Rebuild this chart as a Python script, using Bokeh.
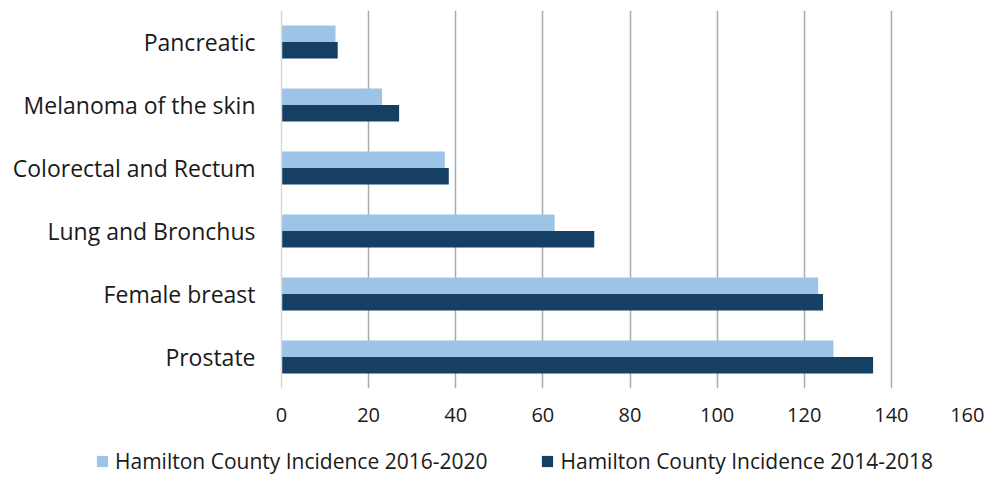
from bokeh.plotting import figure
from bokeh.layouts import column
from bokeh.models import FactorRange, Range1d, Legend, LegendItem, FixedTicker, ColumnDataSource
from bokeh.transform import dodge
from bokeh.embed import file_html
from bokeh.resources import INLINE

categories = ["Prostate", "Female breast", "Lung and Bronchus",
              "Colorectal and Rectum", "Melanoma of the skin", "Pancreatic"]
inc_2016_2020 = [126.7, 123.2, 62.7, 37.5, 23.1, 12.4]
inc_2014_2018 = [135.8, 124.3, 71.8, 38.4, 27.0, 12.9]
series_names = ["Hamilton County Incidence 2016-2020", "Hamilton County Incidence 2014-2018"]
x_ticks = [0, 20, 40, 60, 80, 100, 120, 140, 160]

LIGHT = "#9DC3E6"
DARK = "#153F63"
FONT = "Open Sans"
TXT = "#1a1a1a"

src = ColumnDataSource(dict(cat=categories, a=inc_2016_2020, b=inc_2014_2018))

p = figure(width=984, height=430, output_backend="svg", toolbar_location=None,
           y_range=FactorRange(*categories, range_padding=0),
           x_range=Range1d(0, 160))
p.min_border_left = 281
p.min_border_right = 6
p.min_border_top = 10
p.min_border_bottom = 42
p.outline_line_color = None
p.background_fill_color = "white"

p.hbar(y=dodge("cat", 0.13, range=p.y_range), right="a", height=0.26,
       source=src, color=LIGHT, line_color=None)
p.hbar(y=dodge("cat", -0.13, range=p.y_range), right="b", height=0.26,
       source=src, color=DARK, line_color=None)

p.xaxis.ticker = FixedTicker(ticks=x_ticks)
p.xaxis.axis_line_color = None
p.xaxis.major_tick_line_color = None
p.xaxis.minor_tick_line_color = None
p.xaxis.major_label_text_font = FONT
p.xaxis.major_label_text_font_size = "20px"
p.xaxis.major_label_text_color = TXT
p.xaxis.major_label_standoff = 13

p.yaxis.axis_line_color = "#d9d9d9"
p.yaxis.axis_line_width = 1.5
p.yaxis.major_tick_line_color = None
p.yaxis.minor_tick_line_color = None
p.yaxis.major_label_text_font = FONT
p.yaxis.major_label_text_font_size = "23px"
p.yaxis.major_label_text_color = TXT
p.yaxis.major_label_standoff = 20

p.ygrid.grid_line_color = None
p.xgrid.grid_line_color = "#ababab"
p.xgrid.grid_line_width = 1.5

# legend strip below the chart
p2 = figure(width=984, height=45, output_backend="svg", toolbar_location=None,
            x_range=Range1d(0, 160), y_range=FactorRange(*categories))
p2.min_border_left = 0
p2.min_border_right = 0
p2.min_border_top = 0
p2.min_border_bottom = 0
if "frame_align" in p2.properties():
    p2.frame_align = False
    p.frame_align = False
p2.axis.visible = False
p2.grid.grid_line_color = None
p2.outline_line_color = None
lg1 = p2.hbar(y="cat", right="a", height=0.26, source=src, color=LIGHT, line_color=None)
lg2 = p2.hbar(y="cat", right="b", height=0.26, source=src, color=DARK, line_color=None)
lg1.visible = False
lg2.visible = False

legend = Legend(items=[LegendItem(label=series_names[0], renderers=[lg1], index=0),
                       LegendItem(label=series_names[1], renderers=[lg2], index=0)],
                orientation="horizontal", location=(95, 0),
                label_text_font=FONT, label_text_font_size="21px",
                label_text_color=TXT, glyph_width=14, glyph_height=14,
                spacing=53, label_standoff=6, background_fill_alpha=0,
                border_line_color=None, padding=0, margin=0,
                inactive_fill_alpha=0)
p2.add_layout(legend, "center")

open("out.html", "w").write(file_html(column(p, p2, spacing=0), INLINE))
